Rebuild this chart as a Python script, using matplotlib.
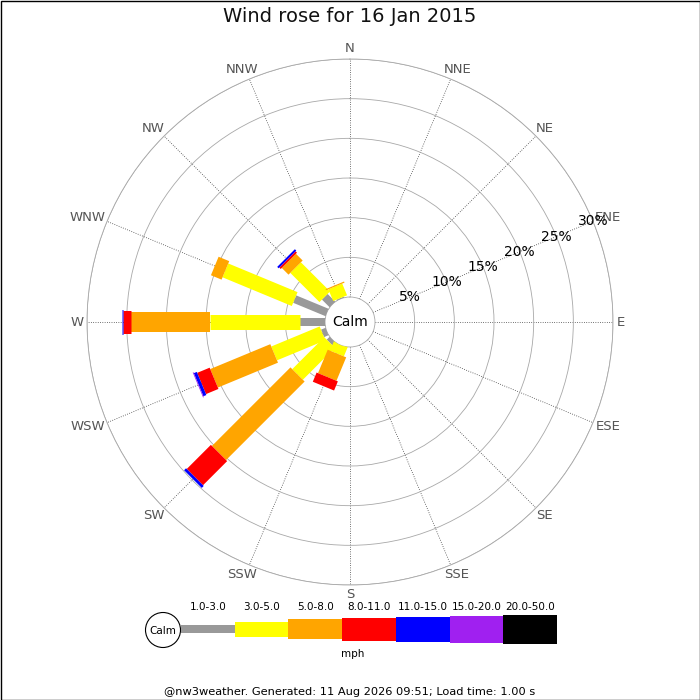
import numpy as np
import matplotlib
matplotlib.use('Agg')
import matplotlib.pyplot as plt
from matplotlib.patches import Circle, Rectangle

# ---- data (percent of time per direction and speed class) ----
directions = ['N', 'NNE', 'NE', 'ENE', 'E', 'ESE', 'SE', 'SSE',
              'S', 'SSW', 'SW', 'WSW', 'W', 'WNW', 'NW', 'NNW']
speed_classes = ['1.0-3.0', '3.0-5.0', '5.0-8.0', '8.0-11.0',
                 '11.0-15.0', '15.0-20.0', '20.0-50.0']
#          N  NNE NE ENE E ESE SE SSE S  SSW   SW    WSW   W     WNW   NW    NNW
pct_1_3 = [0, 0, 0, 0, 0, 0, 0, 0, 0, 0.0,  0.5,  0.6,  3.2,  4.4,  1.35, 0.1]
pct_3_5 = [0, 0, 0, 0, 0, 0, 0, 0, 0, 1.15, 5.7,  6.6,  11.3, 9.45, 5.2,  1.6]
pct_5_8 = [0, 0, 0, 0, 0, 0, 0, 0, 0, 3.2,  14.0, 8.2,  9.9,  1.45, 1.2,  0.15]
pct_8_11 = [0, 0, 0, 0, 0, 0, 0, 0, 0, 1.25, 4.3, 1.7,  1.1,  0,    0.25, 0]
pct_11_15 = [0, 0, 0, 0, 0, 0, 0, 0, 0, 0,  0.35, 0.4,  0.12, 0,    0.25, 0]
pct_15_20 = [0, 0, 0, 0, 0, 0, 0, 0, 0, 0,  0,    0.1,  0,    0,    0,    0]
pct_20_50 = [0] * 16
ring_ticks = [5, 10, 15, 20, 25, 30]

series = [pct_1_3, pct_3_5, pct_5_8, pct_8_11, pct_11_15, pct_15_20, pct_20_50]
colors = ['#999999', '#ffff00', '#ffa500', '#ff0000', '#0000ff', '#a020f0', '#000000']
bar_px = [8, 15, 20, 23, 25, 27, 29]   # bar thickness in pixels

DPI = 100
fig = plt.figure(figsize=(7, 7), dpi=DPI)

ax = fig.add_axes([87 / 700, 115 / 700, 526 / 700, 526 / 700], projection='polar')
ax.set_theta_zero_location('N')
ax.set_theta_direction(-1)
ax.set_rorigin(-3.15)
ax.set_ylim(0, 30)

angles = np.deg2rad(np.arange(16) * 22.5)
ax.set_xticks(angles)
ax.set_xticklabels([])
ax.set_yticks(ring_ticks)
ax.set_yticklabels([])
ax.xaxis.grid(True, color='#222222', linestyle=(0, (1, 2)), linewidth=0.55)
ax.yaxis.grid(True, color='#a8a8a8', linestyle='-', linewidth=0.6)
ax.spines['polar'].set_color('#a8a8a8')
ax.spines['polar'].set_linewidth(0.6)
ax.spines['inner'].set_color('#a8a8a8')
ax.spines['inner'].set_linewidth(0.6)

# stacked bars as thick radial segments (constant width)
cum = np.full(16, -0.6)
for vals, col, px in zip(series, colors, bar_px):
    vals = np.array(vals, dtype=float)
    for i in range(16):
        if vals[i] <= 0:
            continue
        top = max(cum[i], 0) + vals[i]
        ax.plot([angles[i], angles[i]], [cum[i], top], color=col,
                lw=px * 72 / DPI, solid_capstyle='butt', zorder=3)
        cum[i] = top

# ring labels along ENE
for t in ring_ticks:
    ax.text(np.deg2rad(67.5), t, f'{t}%', ha='center', va='center',
            fontsize=10, color='black', zorder=4)

ax.text(0.5, 0.5, 'Calm', transform=ax.transAxes, ha='center', va='center',
        fontsize=10, color='black')

# direction labels placed outside the outer ring
dir_texts = []
for ang, lab in zip(angles, directions):
    a = ax.annotate(lab, xy=(ang, 30), xytext=(0, 0), textcoords='offset pixels',
                    ha='center', va='center', fontsize=9.5, color='#555555',
                    annotation_clip=False)
    dir_texts.append(a)

fig.text(0.5, 1 - 17 / 700, 'Wind rose for 16 Jan 2015', ha='center', va='center',
         fontsize=14, color='#111111')
fig.text(0.5, 1 - 692 / 700,
         '@nw3weather. Generated: 11 Aug 2026 09:51; Load time: 1.00 s',
         ha='center', va='center', fontsize=8.2, color='black')

# legend drawn on an overlay axes in pixel coordinates
lax = fig.add_axes([0, 0, 1, 1], zorder=-1)
lax.set_xlim(0, 700)
lax.set_ylim(700, 0)
lax.axis('off')
lax.add_patch(Circle((163, 630), 17.5, facecolor='white', edgecolor='black', lw=0.8))
lax.text(163, 631, 'Calm', ha='center', va='center', fontsize=7.5)
seg_w = 53.7
x0 = 181
for k, (lab, col, px) in enumerate(zip(speed_classes, colors, bar_px)):
    left = x0 + k * seg_w
    lax.bar(left, px, width=seg_w, bottom=629 - px / 2, align='edge',
            color=col, linewidth=0)
    lax.text(left + seg_w / 2, 607, lab, ha='center', va='center', fontsize=7.5)
lax.text(353, 654, 'mph', ha='center', va='center', fontsize=7.5)
lax.add_patch(Rectangle((0.5, 0.5), 699, 699, fill=False, edgecolor='black', lw=1.0))

# push direction labels outward according to their size
fig.canvas.draw()
renderer = fig.canvas.get_renderer()
PAD = 3.5
for a, ang in zip(dir_texts, angles):
    bb = a.get_window_extent(renderer)
    ux, uy = np.sin(ang), np.cos(ang)
    a.xyann = (ux * (PAD + bb.width / 2), uy * (PAD + bb.height / 2))

fig.savefig('out.png', dpi=DPI)
